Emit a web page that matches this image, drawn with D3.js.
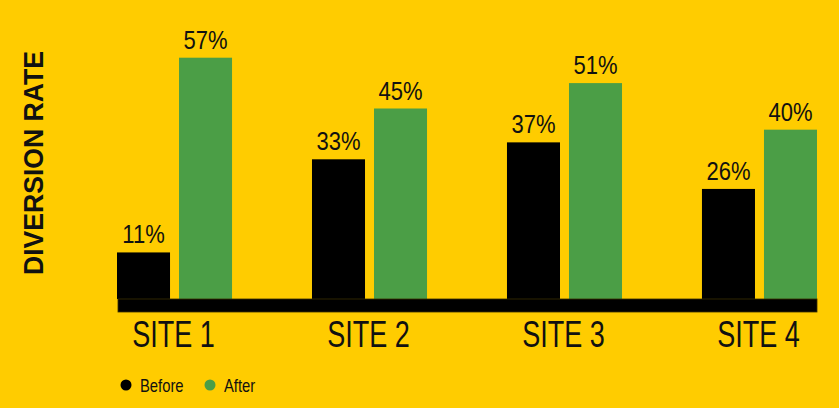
<!DOCTYPE html>
<html>
<head>
<meta charset="utf-8">
<script src="https://cdn.jsdelivr.net/npm/d3@7"></script>
<style>
    body { margin: 0; background: #ffcc00; }
    svg { display: block; }
    .label { font-family: "Liberation Sans", Arial, sans-serif; fill: #111; }
</style>
</head>
<body>
<div id="chart"></div>
<script>
// values
const sites = ['SITE 1', 'SITE 2', 'SITE 3', 'SITE 4'];
const series = ['Before', 'After'];
const before = [11, 33, 37, 26];
const after = [57, 45, 51, 40];
const colors = ['#000000', '#4b9e46'];

const width = 839, height = 408;
const baseY = 299;

let svg = d3.select('#chart').append('svg')
    .attr('width', width)
    .attr('height', height);

svg.append('rect')
    .attr('width', width)
    .attr('height', height)
    .attr('fill', '#ffcc00');

let x0 = d3.scaleBand()
    .domain(sites)
    .range([117, 817])
    .paddingInner(0.41)
    .paddingOuter(0);

let x1 = d3.scaleBand()
    .domain(series)
    .range([0, x0.bandwidth()])
    .paddingInner(0.145);

let y = d3.scaleLinear()
    .domain([0, 60])
    .range([baseY, 45]);

// condensed look: squeeze text horizontally (no narrow font installed)
function squeezed(sel, sx) {
    return sel.attr('transform', function () {
        let t = d3.select(this);
        return `translate(${t.attr('x')},${t.attr('y')}) scale(${sx},1)`;
    }).attr('x', 0).attr('y', 0);
}

let rows = sites.map((s, i) => ({ site: s, values: [before[i], after[i]] }));

let groups = svg.selectAll('.site')
    .data(rows)
    .enter()
    .append('g')
    .attr('class', 'site')
    .attr('transform', d => `translate(${x0(d.site)},0)`);

let bars = groups.selectAll('.bar')
    .data(d => d.values.map((v, j) => ({ key: series[j], value: v, idx: j })))
    .enter();

bars.append('rect')
    .attr('x', d => x1(d.key))
    .attr('y', d => y(d.value))
    .attr('width', x1.bandwidth())
    .attr('height', d => baseY - y(d.value))
    .attr('fill', d => colors[d.idx]);

bars.append('text')
    .attr('class', 'label')
    .attr('x', d => x1(d.key) + x1.bandwidth() / 2)
    .attr('y', d => y(d.value) - 9)
    .attr('text-anchor', 'middle')
    .style('font-size', '26.5px')
    .text(d => d.value + '%')
    .call(squeezed, 0.83);

// thick baseline
svg.append('rect')
    .attr('x', x0(sites[0]) + 1)
    .attr('y', baseY)
    .attr('width', x0(sites[3]) + x0.bandwidth() - x0(sites[0]) - 1)
    .attr('height', 13)
    .attr('fill', '#000')
    .attr('stroke', '#3a2f00')
    .attr('stroke-width', 0.8);

// category labels
svg.selectAll('.site-label')
    .data(sites)
    .enter()
    .append('text')
    .attr('class', 'label site-label')
    .attr('x', d => x0(d) + x0.bandwidth() / 2 - 1)
    .attr('y', 347)
    .attr('text-anchor', 'middle')
    .style('font-size', '36px')
    .text(d => d)
    .call(squeezed, 0.75);

// y title
svg.append('text')
    .attr('transform', 'translate(42.5,163) rotate(-90) scale(0.95,1)')
    .attr('text-anchor', 'middle')
    .style('font-family', '"Liberation Sans", Arial, sans-serif')
    .style('font-weight', 'bold')
    .style('font-size', '28px')
    .attr('fill', '#111')
    .text('DIVERSION RATE');

// legend
let legend = svg.selectAll('.legend')
    .data(series)
    .enter()
    .append('g')
    .attr('class', 'legend')
    .attr('transform', (d, i) => `translate(${[126, 210][i]},385)`);

legend.append('circle')
    .attr('r', 5.5)
    .attr('fill', (d, i) => colors[i]);

legend.append('text')
    .attr('class', 'label')
    .attr('x', 14)
    .attr('y', 6.5)
    .style('font-size', '18.5px')
    .text(d => d)
    .call(squeezed, 0.8);
</script>
</body>
</html>
